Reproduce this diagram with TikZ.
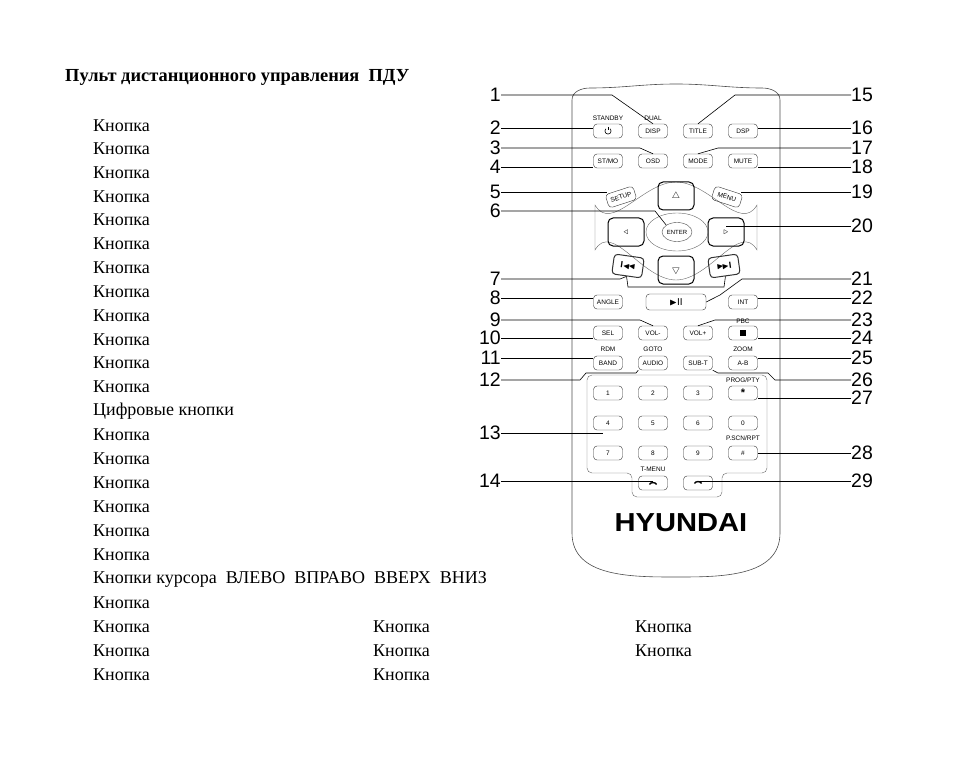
\documentclass[tikz,border=0pt]{standalone}
\usepackage{amssymb}
\usepackage{fontspec}
\usetikzlibrary{shapes.geometric}
\setmainfont{Liberation Serif}
\setsansfont{Liberation Sans}
\begin{document}
\begin{tikzpicture}[x=1pt,y=-1pt,
  btn/.style={draw=black!80,rounded corners=3.5pt,minimum width=29pt,minimum height=14pt,inner sep=0pt,font=\sffamily\fontsize{6.5}{7}\selectfont},
  navb/.style={draw,line width=1pt,rounded corners=5pt,minimum width=36pt,minimum height=28pt,inner sep=0pt,font=\sffamily\fontsize{9}{10}\selectfont},
  sml/.style={font=\sffamily\fontsize{6.5}{7}\selectfont,inner sep=0pt},
  num/.style={font=\sffamily\fontsize{19.5}{20}\selectfont,inner sep=0pt},
  txt/.style={font=\fontsize{18}{20}\selectfont,anchor=west,inner sep=0pt},
  lead/.style={line width=0.6pt}]
\useasboundingbox (0,0) rectangle (954,781);
% text
\node[txt,font=\bfseries\fontsize{18.4}{20}\selectfont] (ttl) at (65,77) {Пульт дистанционного управления\ \ ПДУ};
\foreach \y [count=\i] in {126,149,173,197,220,244,268,292,316,340,363,387,435,459,483,507,531,555,603,627,651,675}
  \node[txt] (k\i) at (93,\y) {Кнопка};
\node[txt] (dig) at (93,411) {Цифровые кнопки};
\node[txt] (cur) at (93,579) {Кнопки курсора\ \ ВЛЕВО\ \ ВПРАВО\ \ ВВЕРХ\ \ ВНИЗ};
\node[txt] (c2a) at (373,627) {Кнопка};
\node[txt] (c2b) at (373,651) {Кнопка};
\node[txt] (c2c) at (373,675) {Кнопка};
\node[txt] (c3a) at (635,627) {Кнопка};
\node[txt] (c3b) at (635,651) {Кнопка};
% remote body
\draw[black!70,line width=0.6pt] (572,533) -- (572,100) to[out=90,in=180] (590,88) to[out=0,in=180] (676,84) to[out=0,in=180] (762,88) to[out=0,in=90] (780,100) -- (780,533) to[out=-90,in=0] (676,577) to[out=180,in=-90] (572,533);
% nav cluster outline
\draw[black!60] (595,205) to[out=-60,in=180] (676,182) to[out=0,in=-120] (757,205) -- (757,250) to[out=120,in=0] (676,280) to[out=180,in=60] (595,250) -- cycle;
% keypad outline
\draw[black!60,rounded corners=5pt] (587,375) -- (767,375) -- (767,473) -- (722,473) -- (722,497) -- (632,497) -- (632,473) -- (587,473) -- cycle;
% buttons
\node[btn] (pw) at (608,131) {};
\draw[line width=0.6pt] (pw.center) ++(2.2,-2.2) arc[start angle=-45,end angle=225,radius=3.1];
\draw[line width=0.6pt] (pw.center) ++(0,-4.2) -- ++(0,3.6);
\node[btn] (disp) at (653,131) {DISP};
\node[btn] (title) at (698,131) {TITLE};
\node[btn] (dsp) at (743,131) {DSP};
\node[btn] (stmo) at (608,161) {ST/MO};
\node[btn] (osd) at (653,161) {OSD};
\node[btn] (mode) at (698,161) {MODE};
\node[btn] (mute) at (743,161) {MUTE};
\node[btn,rotate=18] (setup) at (621,197) {SETUP};
\node[btn,rotate=-18] (menu) at (727,197) {MENU};
\node[navb] (up) at (676,196) {$\bigtriangleup$};
\node[navb] (dn) at (676,270) {$\bigtriangledown$};
\node[navb] (lt) at (626,232) {$\triangleleft$};
\node[navb] (rt) at (726,232) {$\triangleright$};
\draw[black!60] (677,232) ellipse (31 and 19);
\node[draw=black!70,ellipse,minimum width=30pt,minimum height=19pt,inner sep=0pt,font=\sffamily\fontsize{6}{7}\selectfont] (ent) at (677,232) {ENTER};
\node[btn,line width=1pt,minimum width=30pt,minimum height=20pt,rotate=-8,font=\sffamily\bfseries\fontsize{9}{9}\selectfont] (prev) at (628,266) {I$\blacktriangleleft\!\blacktriangleleft$};
\node[btn,line width=1pt,minimum width=30pt,minimum height=20pt,rotate=8,font=\sffamily\bfseries\fontsize{9}{9}\selectfont] (next) at (724,266) {$\blacktriangleright\!\blacktriangleright$I};
\node[btn] (angle) at (608,302) {ANGLE};
\node[btn,minimum width=60pt,minimum height=16pt,font=\sffamily\fontsize{10}{10}\selectfont] (play) at (676,302) {$\blacktriangleright$II};
\node[btn] (int) at (743,302) {INT};
\node[btn] (sel) at (608,333) {SEL};
\node[btn] (volm) at (653,333) {VOL-};
\node[btn] (volp) at (698,333) {VOL+};
\node[btn] (stop) at (743,333) {\rule{6pt}{6pt}};
\node[btn] (band) at (608,363) {BAND};
\node[btn] (audio) at (653,363) {AUDIO};
\node[btn] (subt) at (698,363) {SUB-T};
\node[btn] (ab) at (743,363) {A-B};
\node[btn] (b1) at (608,393) {1};
\node[btn] (b2) at (653,393) {2};
\node[btn] (b3) at (698,393) {3};
\node[btn,font=\sffamily\bfseries\fontsize{11}{10}\selectfont] (star) at (743,393) {*};
\node[btn] (b4) at (608,423) {4};
\node[btn] (b5) at (653,423) {5};
\node[btn] (b6) at (698,423) {6};
\node[btn] (b0) at (743,423) {0};
\node[btn] (b7) at (608,453) {7};
\node[btn] (b8) at (653,453) {8};
\node[btn] (b9) at (698,453) {9};
\node[btn] (hash) at (743,453) {\#};
\node[btn] (call) at (653,483) {};
\node[btn] (hang) at (698,483) {};
\draw[line width=1.4pt] (call.center) ++(-3.5,1.5) to[out=70,in=110] ++(7,0);
\draw[line width=1.4pt] (hang.center) ++(-3.5,0.5) to[out=70,in=110] ++(7,0);
% small labels
\node[sml] (sb) at (608,118) {STANDBY};
\node[sml] (dual) at (653,118) {DUAL};
\node[sml] (pbc) at (743,321) {PBC};
\node[sml] (rdm) at (608,349) {RDM};
\node[sml] (goto) at (653,349) {GOTO};
\node[sml] (zoom) at (743,349) {ZOOM};
\node[sml] (prog) at (743,380) {PROG/PTY};
\node[sml] (pscn) at (743,438) {P.SCN/RPT};
\node[sml] (tm) at (653,469) {T-MENU};
% logo
\node[font=\sffamily\bfseries\fontsize{26}{26}\selectfont,xscale=1.12,inner sep=0pt] (logo) at (681,523) {HYUNDAI};
% numbers
\foreach \n/\y in {1/95,2/128,3/148,4/167,5/192,6/211,7/279,8/298,9/320,10/338,11/358,12/380,13/433,14/481}
  \node[num,anchor=east] (L\n) at (501,\y) {\n};
\foreach \n/\y in {15/95,16/128,17/148,18/167,19/192,20/226,21/279,22/298,23/320,24/338,25/358,26/380,27/398,28/453,29/481}
  \node[num,anchor=west] (R\n) at (851,\y) {\n};
\begin{scope}[lead]
\draw (L1.east) -- (612,95) -- (disp.north);
\draw (L2.east) -- (L2.east -| pw.west);
\draw (L3.east) -- (640,148) -- (osd.north);
\draw (L4.east) -- (L4.east -| stmo.west);
\draw (L5.east) -- (L5.east -| setup.west);
\draw (L6.east) -- (655,211) -- (ent.north west);
\draw (L7.east) -- (620,279) -- (prev.south);
\draw (prev.south) -- (628,287) -- (724,287) -- (next.south);
\draw (L8.east) -- (L8.east -| angle.west);
\draw (L9.east) -- (640,320) -- (volm.north);
\draw (L10.east) -- (L10.east -| sel.west);
\draw (L11.east) -- (L11.east -| band.west);
\draw (L12.east) -- (580,380) -- (586,373) -- (636,373) -- (audio.south west);
\draw (L13.east) -- (603,433);
\draw (L14.east) -- (L14.east -| call.center);
\draw (R15.west) -- (735,95) -- (title.north);
\draw (R16.west) -- (R16.west -| dsp.east);
\draw (R17.west) -- (718,148) -- (mode.north);
\draw (R18.west) -- (R18.west -| mute.east);
\draw (R19.west) -- (R19.west -| menu.east);
\draw (R20.west) -- (R20.west -| rt.center);
\draw (R21.west) -- (742,279) -- (720,295) -- (play.east);
\draw (R22.west) -- (R22.west -| int.east);
\draw (R23.west) -- (715,320) -- (volp.north);
\draw (R24.west) -- (R24.west -| stop.east);
\draw (R25.west) -- (R25.west -| ab.east);
\draw (R26.west) -- (775,380) -- (768,373) -- (718,373) -- (subt.south east);
\draw (R27.west) -- (R27.west -| star.east);
\draw (R28.west) -- (R28.west -| hash.east);
\draw (R29.west) -- (R29.west -| hang.center);
\end{scope}
\end{tikzpicture}
\end{document}
